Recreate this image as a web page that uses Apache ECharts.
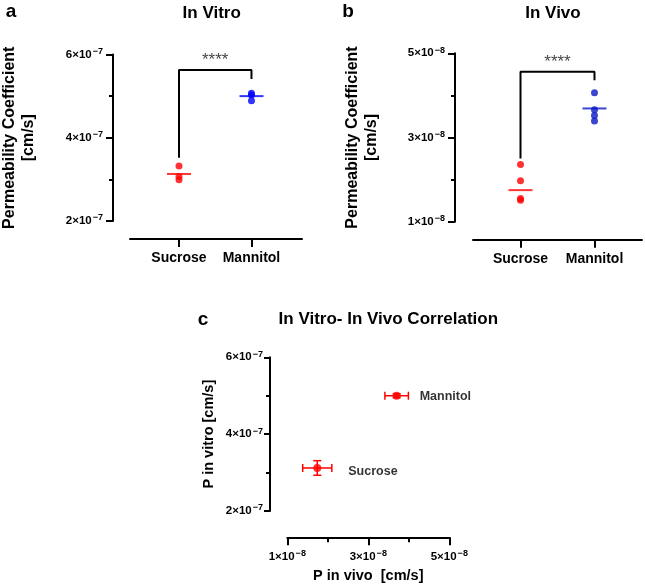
<!DOCTYPE html>
<html>
<head>
<meta charset="utf-8">
<script src="https://cdn.jsdelivr.net/npm/echarts@6/dist/echarts.min.js"></script>
<style>
html,body{margin:0;padding:0;background:#fff;}
#chart{width:645px;height:586px;}
</style>
</head>
<body>
<div id="chart"></div>
<script>
// ---- data ----
const categories = ['Sucrose', 'Mannitol'];

// Panel a: In Vitro permeability (cm/s)
const inVitroSucrose = [3.32e-7, 3.07e-7, 2.99e-7];
const inVitroMannitol = [5.07e-7, 5.03e-7, 4.89e-7];
const inVitroMeans = [3.13e-7, 5.00e-7];
const inVitroBracket = [3.52e-7, 5.63e-7, 5.41e-7]; // left end, top, right end
const inVitroTicks = [2e-7, 4e-7, 6e-7];

// Panel b: In Vivo permeability (cm/s)
const inVivoSucrose = [2.36e-8, 1.97e-8, 1.55e-8, 1.51e-8];
const inVivoMannitol = [4.06e-8, 3.66e-8, 3.52e-8, 3.39e-8];
const inVivoMeans = [1.75e-8, 3.69e-8];
const inVivoBracket = [2.50e-8, 4.56e-8, 4.36e-8];
const inVivoTicks = [1e-8, 3e-8, 5e-8];

// Panel c: correlation (mean ± error)
const corrInVivo = [1.74e-8, 3.70e-8];
const corrInVivoErr = [0.36e-8, 0.29e-8];
const corrInVitro = [3.12e-7, 5.00e-7];
const corrInVitroErr = [0.19e-7, 0.05e-7];

const significance = '****';

// ---- helpers ----
const FONT = 'Liberation Sans, Arial, sans-serif';
const RED = '#ff0000';
const BLUE_A = '#0000ff';
const BLUE_B = '#0a18c4';

function sciFormatter(exp) {
  return function (v) {
    const m = Math.round(v / Math.pow(10, exp));
    return '{m|' + m + '×10}{e|\u2212' + (-exp) + '}';
  };
}
const sciRich = {
  m: { fontSize: 11.5, fontWeight: 'bold', fontFamily: FONT, color: '#000', lineHeight: 15 },
  e: { fontSize: 9, fontWeight: 'bold', fontFamily: FONT, color: '#000', lineHeight: 10, verticalAlign: 'top', padding: [0, 0, 0, 1] }
};

function catXAxis(gridIndex, min, max) {
  return {
    gridIndex: gridIndex, type: 'value', min: min, max: max, offset: 18,
    splitLine: { show: false },
    axisLine: { show: true, onZero: false, lineStyle: { color: '#000', width: 2 } },
    axisTick: { show: true, length: 8, customValues: [0, 1], lineStyle: { color: '#000', width: 2 } },
    axisLabel: {
      customValues: [0, 1], margin: 12,
      formatter: function (v) { return categories[Math.round(v)]; },
      fontSize: 14, fontWeight: 'bold', fontFamily: FONT, color: '#000'
    }
  };
}

function permYAxis(gridIndex, ticks, exp, offset, nameGap) {
  return {
    gridIndex: gridIndex, type: 'value',
    min: ticks[0], max: ticks[ticks.length - 1], interval: ticks[1] - ticks[0],
    offset: offset,
    name: 'Permeability Coefficient\n[cm/s]', nameLocation: 'middle', nameRotate: 90, nameGap: nameGap,
    nameTextStyle: { fontSize: 16, fontWeight: 'bold', fontFamily: FONT, color: '#000', lineHeight: 19, align: 'center', padding: [0, 0, 0, 0] },
    splitLine: { show: false },
    axisLine: { show: true, onZero: false, lineStyle: { color: '#000', width: 2 } },
    axisTick: { show: true, length: 7, lineStyle: { color: '#000', width: 2 } },
    minorTick: { show: true, splitNumber: 2, length: 4, lineStyle: { color: '#000', width: 2 } },
    axisLabel: { margin: 10, fontSize: 11.5, formatter: sciFormatter(exp), rich: sciRich }
  };
}

function dots(xi, yi, idx, vals, color) {
  return {
    type: 'scatter', xAxisIndex: xi, yAxisIndex: yi, symbol: 'circle', symbolSize: 7,
    itemStyle: { color: color }, z: 3,
    data: vals.map(function (v) { return [idx, v]; })
  };
}
function meanLines(xi, yi, means, colors) {
  return {
    type: 'scatter', xAxisIndex: xi, yAxisIndex: yi, symbol: 'rect', symbolSize: [24, 2], z: 4,
    data: means.map(function (v, i) { return { value: [i, v], itemStyle: { color: colors[i] } }; })
  };
}
function bracket(xi, yi, b) {
  return [{
    type: 'line', xAxisIndex: xi, yAxisIndex: yi, symbol: 'none', z: 2,
    lineStyle: { color: '#000', width: 2 }, silent: true,
    data: [[0, b[0]], [0, b[1]], [1, b[1]], [1, b[2]]]
  }, {
    type: 'scatter', xAxisIndex: xi, yAxisIndex: yi, symbolSize: 0, silent: true,
    data: [[0.5, b[1]]],
    label: { show: true, position: 'top', distance: 1, formatter: significance,
      fontSize: 17, fontFamily: FONT, color: '#111' }
  }];
}

const chart = echarts.init(document.getElementById('chart'), null, { renderer: 'canvas' });

const option = {
  animation: false,
  backgroundColor: '#fff',
  grid: [
    { left: 130, top: 54.5, width: 172, height: 166.5, outerBoundsMode: 'none' },
    { left: 473, top: 53.3, width: 169, height: 168.4, outerBoundsMode: 'none' },
    { left: 287.3, top: 357.3, width: 162, height: 153.7, outerBoundsMode: 'none' }
  ],
  xAxis: [
    catXAxis(0, -0.676, 1.697),
    catXAxis(1, -0.642, 1.642),
    {
      gridIndex: 2, type: 'value', min: inVivoTicks[0], max: inVivoTicks[2], interval: inVivoTicks[1] - inVivoTicks[0],
      offset: 26.3,
      name: 'P in vivo  [cm/s]', nameLocation: 'middle', nameGap: 31,
      nameTextStyle: { fontSize: 14.5, fontWeight: 'bold', fontFamily: FONT, color: '#000' },
      splitLine: { show: false },
      axisLine: { show: true, onZero: false, lineStyle: { color: '#000', width: 2 } },
      axisTick: { show: true, length: 8, lineStyle: { color: '#000', width: 2 } },
      minorTick: { show: true, splitNumber: 2, length: 5, lineStyle: { color: '#000', width: 2 } },
      axisLabel: { margin: 12, fontSize: 11.5, formatter: sciFormatter(-8), rich: sciRich }
    }
  ],
  yAxis: [
    permYAxis(0, inVitroTicks, -7, 17, 75),
    permYAxis(1, inVivoTicks, -8, 18, 74),
    {
      gridIndex: 2, type: 'value', min: inVitroTicks[0], max: inVitroTicks[2], interval: inVitroTicks[1] - inVitroTicks[0],
      offset: 17.3,
      name: 'P in vitro [cm/s]', nameLocation: 'middle', nameRotate: 90, nameGap: 54,
      nameTextStyle: { fontSize: 14.5, fontWeight: 'bold', fontFamily: FONT, color: '#000' },
      splitLine: { show: false },
      axisLine: { show: true, onZero: false, lineStyle: { color: '#000', width: 2 } },
      axisTick: { show: true, length: 6, lineStyle: { color: '#000', width: 2 } },
      minorTick: { show: true, splitNumber: 2, length: 4, lineStyle: { color: '#000', width: 2 } },
      axisLabel: { margin: 7, fontSize: 11.5, formatter: sciFormatter(-7), rich: sciRich }
    }
  ],
  graphic: [
    { type: 'text', x: 11, y: 12, style: { text: 'a', fontSize: 19, fontWeight: 'bold', fontFamily: FONT, fill: '#000', align: 'center', verticalAlign: 'middle' } },
    { type: 'text', x: 348, y: 12, style: { text: 'b', fontSize: 19, fontWeight: 'bold', fontFamily: FONT, fill: '#000', align: 'center', verticalAlign: 'middle' } },
    { type: 'text', x: 203, y: 320, style: { text: 'c', fontSize: 19, fontWeight: 'bold', fontFamily: FONT, fill: '#000', align: 'center', verticalAlign: 'middle' } },
    { type: 'text', x: 211.7, y: 13, style: { text: 'In Vitro', fontSize: 17, fontWeight: 'bold', fontFamily: FONT, fill: '#000', align: 'center', verticalAlign: 'middle' } },
    { type: 'text', x: 553, y: 13, style: { text: 'In Vivo', fontSize: 17, fontWeight: 'bold', fontFamily: FONT, fill: '#000', align: 'center', verticalAlign: 'middle' } },
    { type: 'text', x: 388.3, y: 319, style: { text: 'In Vitro- In Vivo Correlation', fontSize: 17, fontWeight: 'bold', fontFamily: FONT, fill: '#000', align: 'center', verticalAlign: 'middle' } }
  ],
  series: [].concat(
    bracket(0, 0, inVitroBracket),
    [dots(0, 0, 0, inVitroSucrose, RED), dots(0, 0, 1, inVitroMannitol, BLUE_A),
     meanLines(0, 0, inVitroMeans, [RED, BLUE_A])],
    bracket(1, 1, inVivoBracket),
    [dots(1, 1, 0, inVivoSucrose, RED), dots(1, 1, 1, inVivoMannitol, BLUE_B),
     meanLines(1, 1, inVivoMeans, [RED, BLUE_B])],
    [{
      type: 'custom', xAxisIndex: 2, yAxisIndex: 2, z: 3,
      data: corrInVivo.map(function (x, i) { return [x, corrInVitro[i], corrInVivoErr[i], corrInVitroErr[i]]; }),
      encode: { x: 0, y: 1 },
      renderItem: function (params, api) {
        const x = api.value(0), y = api.value(1), ex = api.value(2), ey = api.value(3);
        const c = api.coord([x, y]);
        const l = api.coord([x - ex, y]), r = api.coord([x + ex, y]);
        const t = api.coord([x, y + ey]), b = api.coord([x, y - ey]);
        const cap = 4;
        const st = { stroke: RED, lineWidth: 1.5 };
        return { type: 'group', children: [
          { type: 'line', shape: { x1: l[0], y1: c[1], x2: r[0], y2: c[1] }, style: st },
          { type: 'line', shape: { x1: l[0], y1: c[1] - cap, x2: l[0], y2: c[1] + cap }, style: st },
          { type: 'line', shape: { x1: r[0], y1: c[1] - cap, x2: r[0], y2: c[1] + cap }, style: st },
          { type: 'line', shape: { x1: c[0], y1: t[1], x2: c[0], y2: b[1] }, style: st },
          { type: 'line', shape: { x1: c[0] - cap, y1: t[1], x2: c[0] + cap, y2: t[1] }, style: st },
          { type: 'line', shape: { x1: c[0] - cap, y1: b[1], x2: c[0] + cap, y2: b[1] }, style: st }
        ] };
      }
    }, {
      type: 'scatter', xAxisIndex: 2, yAxisIndex: 2, symbol: 'circle', symbolSize: 8, z: 4,
      itemStyle: { color: RED },
      data: corrInVivo.map(function (x, i) {
        return { value: [x, corrInVitro[i]], name: categories[i],
          label: { distance: i === 0 ? 27 : 19, offset: i === 0 ? [0, 4] : [0, 1] } };
      }),
      label: { show: true, position: 'right', formatter: '{b}', fontSize: 12.5, fontWeight: 'bold', fontFamily: FONT, color: '#000' }
    }]
  )
};
chart.setOption(option);
</script>
</body>
</html>
